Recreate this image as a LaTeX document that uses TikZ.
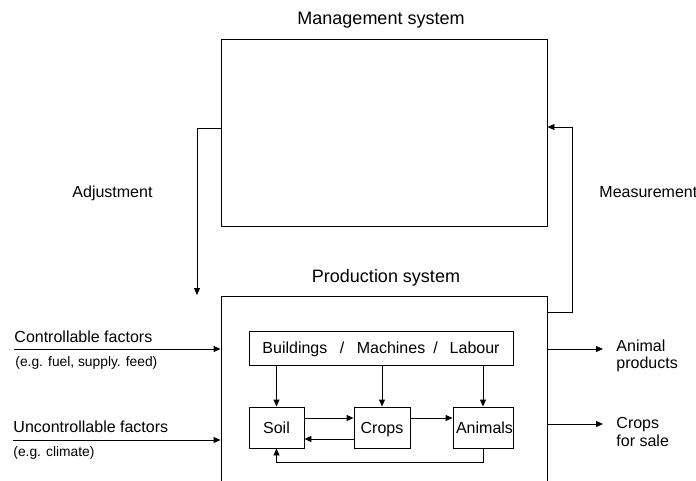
\documentclass[tikz,border=0pt]{standalone}
\usepackage{fontspec}
\setmainfont{Liberation Sans}
\usetikzlibrary{arrows.meta}
\begin{document}
\begin{tikzpicture}[x=1pt,y=-1pt,
  line width=0.9pt,
  box/.style={draw, rectangle, inner sep=0pt},
  arr/.style={-{Triangle[length=7pt,width=6pt]}},
  lbl/.style={inner sep=0pt, anchor=base west, font=\fontsize{16}{18}\selectfont},
  small/.style={inner sep=0pt, anchor=base west, font=\fontsize{13.8}{16}\selectfont},
  title/.style={inner sep=0pt, anchor=base, font=\fontsize{18}{21}\selectfont},
  inbox/.style={draw, rectangle, inner sep=0pt, text height=11.5pt, text depth=0pt, font=\fontsize{16}{18}\selectfont}]
\clip (0,0) rectangle (696,481);
\fill[white] (0,0) rectangle (696,481);

% main boxes
\node[box, minimum width=326pt, minimum height=187pt] (mgmt) at (384,132.5) {};
\node[box, minimum width=326pt, minimum height=230pt] (prod) at (384,411) {};
\node[title] (mgmtT) at (381,25) {Management system};
\node[title] (prodT) at (386,282) {Production system};

% inner boxes
\node[inbox, minimum width=264pt, minimum height=34pt] (bml) at (381,348)
  {Buildings\hspace{12.5pt}/\hspace{12.5pt}Machines\hspace{8pt}/\hspace{12pt}Labour};
\node[inbox, minimum width=55pt, minimum height=41pt] (soil) at (276.5,427.5) {Soil};
\node[inbox, minimum width=56pt, minimum height=41pt] (crops) at (382,427.5) {Crops};
\node[inbox, minimum width=60pt, minimum height=41pt] (animals) at (483,427.5) {\hspace{3pt}Animals};

% labels
\node[lbl] (adjT) at (72,198) {Adjustment};
\node[lbl] (measT) at (599,198) {Measurement};
\node[lbl] (contT) at (14,342) {Controllable factors};
\node[small] (contS) at (15,366) {(e.g. fuel, supply. feed)};
\node[lbl] (uncT) at (13,432) {Uncontrollable factors};
\node[small] (uncS) at (13,456) {(e.g. climate)};
\node[lbl] (outA1) at (616,351) {Animal};
\node[lbl] (outA2) at (616,368) {products};
\node[lbl] (outC1) at (616,428) {Crops};
\node[lbl] (outC2) at (616,446) {for sale};

% coordinates
\coordinate (adjA) at (197,128);
\coordinate (adjEnd) at (197,295);
\coordinate (measA) at (572,312);
\coordinate (measB) at (572,127);
\coordinate (contStart) at (14,349);
\coordinate (uncStart) at (13,440);
\coordinate (outAEnd) at (603,349);
\coordinate (outCEnd) at (603,424);
\coordinate (fbLow) at (0,462);

% feedback loop connectors
\draw[arr] (mgmt.west |- adjA) -- (adjA) -- (adjEnd);
\draw[arr] (prod.east |- measA) -- (measA) -- (measB) -- (mgmt.east |- measB);

% inputs and outputs
\draw[arr] (contStart) -- (prod.west |- contStart);
\draw[arr] (uncStart) -- (prod.west |- uncStart);
\draw[arr] (prod.east |- outAEnd) -- (outAEnd);
\draw[arr] (prod.east |- outCEnd) -- (outCEnd);

% inner connectors
\draw[arr] (bml.south -| soil.north) -- (soil.north);
\draw[arr] (bml.south -| crops.north) -- (crops.north);
\draw[arr] (bml.south -| animals.north) -- (animals.north);
\draw[arr] ([yshift=9.5pt]soil.east) -- ([yshift=9.5pt]soil.east -| crops.west);
\draw[arr] ([yshift=-11.5pt]crops.west) -- ([yshift=-11.5pt]crops.west -| soil.east);
\draw[arr] ([yshift=9.5pt]crops.east) -- ([yshift=9.5pt]crops.east -| animals.west);
\draw[arr] (animals.south) -- (animals.south |- fbLow) -- (soil.south |- fbLow) -- (soil.south);
\end{tikzpicture}
\end{document}
